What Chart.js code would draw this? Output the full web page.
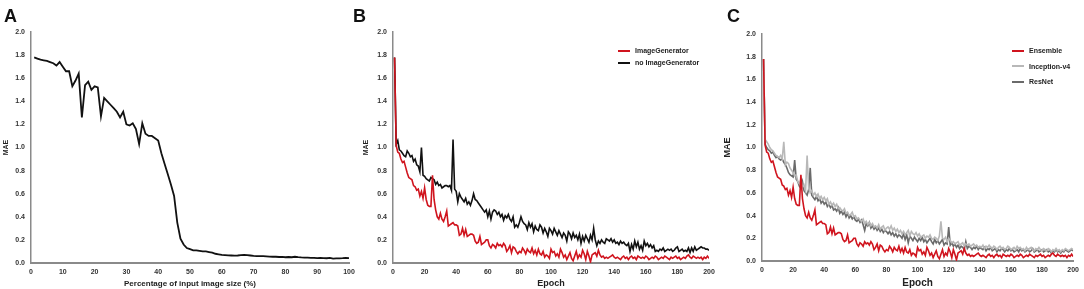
<!DOCTYPE html>
<html>
<head>
<meta charset="utf-8">
<script src="https://cdn.jsdelivr.net/npm/chart.js@4.4.1/dist/chart.umd.min.js"></script>
<style>
  body { margin: 0; background: #fff; width: 1084px; height: 289px; overflow: hidden; position: relative; font-family: "Liberation Sans", Arial, sans-serif; }
  .panel { position: absolute; top: 0; height: 289px; }
  .letter { position: absolute; top: 6px; font-size: 18px; font-weight: bold; color: #111; }
  .legend { position: absolute; font-size: 7px; font-weight: bold; color: #222; }
  .legend div { position: absolute; white-space: nowrap; display: flex; align-items: center; }
  .legend span.sw { display: inline-block; width: 12px; height: 2px; margin-right: 5px; }
</style>
</head>
<body>
<div class="panel" style="left:0;width:360px"><canvas id="chartA"></canvas></div>
<div class="panel" style="left:360px;width:360px"><canvas id="chartB"></canvas></div>
<div class="panel" style="left:720px;width:364px"><canvas id="chartC"></canvas></div>
<div class="letter" style="left:4px">A</div>
<div class="letter" style="left:353px">B</div>
<div class="letter" style="left:727px">C</div>
<div class="legend" id="legendB" style="left:618px;top:47px"></div>
<div class="legend" id="legendC" style="left:1012px;top:47px"></div>
<script>
// Panel A: MAE vs percentage of input image size
const sizePct = Array.from({ length: 100 }, (_, i) => i + 1);
const maeBySize = [
  1.78, 1.77, 1.76, 1.755, 1.75, 1.74, 1.73, 1.71, 1.74, 1.70,
  1.66, 1.66, 1.53, 1.58, 1.64, 1.26, 1.54, 1.57, 1.50, 1.53,
  1.52, 1.27, 1.43, 1.40, 1.37, 1.34, 1.31, 1.26, 1.31, 1.20,
  1.19, 1.21, 1.16, 1.03, 1.21, 1.12, 1.10, 1.10, 1.08, 1.06,
  0.95, 0.86, 0.77, 0.68, 0.58, 0.35, 0.21, 0.16, 0.13, 0.12,
  0.11, 0.11, 0.105, 0.10, 0.10, 0.095, 0.09, 0.08, 0.075, 0.07,
  0.068, 0.066, 0.065, 0.064, 0.065, 0.068, 0.07, 0.068, 0.065, 0.062,
  0.06, 0.06, 0.06, 0.058, 0.055, 0.054, 0.054, 0.052, 0.053, 0.05,
  0.052, 0.05, 0.054, 0.05, 0.048, 0.047, 0.046, 0.045, 0.044, 0.042,
  0.044, 0.043, 0.041, 0.044, 0.038, 0.04, 0.04, 0.042, 0.045, 0.043
];

// Panels B and C: MAE per epoch
const epochs = Array.from({ length: 200 }, (_, i) => i + 1);
const imageGenerator = [
  1.78, 1.02, 0.96, 0.95, 0.90, 0.87, 0.88, 0.83, 0.78, 0.74, 0.73, 0.72, 0.67, 0.66, 0.63, 0.64, 0.58, 0.62, 0.56, 0.65,
  0.55, 0.50, 0.49, 0.49, 0.76, 0.55, 0.46, 0.40, 0.38, 0.43, 0.38, 0.36, 0.40, 0.45, 0.32, 0.33, 0.34, 0.35, 0.33, 0.33,
  0.32, 0.24, 0.25, 0.30, 0.24, 0.29, 0.23, 0.24, 0.25, 0.25, 0.24, 0.19, 0.17, 0.18, 0.23, 0.16, 0.17, 0.18, 0.20, 0.20,
  0.15, 0.13, 0.16, 0.15, 0.13, 0.17, 0.15, 0.16, 0.14, 0.17, 0.15, 0.10, 0.12, 0.15, 0.09, 0.14, 0.13, 0.10, 0.08, 0.10,
  0.09, 0.13, 0.11, 0.08, 0.12, 0.10, 0.09, 0.13, 0.08, 0.11, 0.07, 0.12, 0.08, 0.07, 0.10, 0.05, 0.07, 0.06, 0.04, 0.12,
  0.09, 0.10, 0.06, 0.08, 0.05, 0.12, 0.09, 0.05, 0.07, 0.03, 0.06, 0.09, 0.04, 0.02, 0.06, 0.10, 0.04, 0.07, 0.05, 0.11,
  0.08, 0.03, 0.10, 0.06, 0.01, 0.07, 0.08, 0.09, 0.06, 0.11, 0.07, 0.05, 0.06, 0.04, 0.05, 0.04, 0.05, 0.06, 0.07, 0.05,
  0.04, 0.05, 0.04, 0.03, 0.05, 0.06, 0.04, 0.05, 0.03, 0.05, 0.06, 0.04, 0.05, 0.03, 0.06, 0.05, 0.04, 0.05, 0.04, 0.06,
  0.05, 0.03, 0.04, 0.05, 0.04, 0.06, 0.05, 0.03, 0.04, 0.05, 0.04, 0.06, 0.05, 0.04, 0.03, 0.05, 0.04, 0.05, 0.06, 0.04,
  0.05, 0.03, 0.04, 0.05, 0.04, 0.06, 0.07, 0.05, 0.04, 0.06, 0.05, 0.04, 0.05, 0.04, 0.05, 0.03, 0.05, 0.04, 0.06, 0.04
];
const noImageGenerator = [
  1.78, 1.03, 1.06, 0.98, 0.97, 0.95, 0.93, 0.92, 0.97, 0.95, 0.92, 0.93, 0.88, 0.90, 0.85, 0.84, 0.79, 1.00, 0.76, 0.75,
  0.73, 0.72, 0.71, 0.74, 0.73, 0.72, 0.68, 0.70, 0.67, 0.68, 0.65, 0.66, 0.67, 0.67, 0.66, 0.67, 0.63, 1.07, 0.64, 0.62,
  0.53, 0.60, 0.57, 0.55, 0.53, 0.56, 0.51, 0.53, 0.50, 0.54, 0.60, 0.55, 0.54, 0.52, 0.50, 0.48, 0.46, 0.44, 0.46, 0.40,
  0.45, 0.38, 0.44, 0.46, 0.45, 0.42, 0.44, 0.40, 0.42, 0.37, 0.41, 0.39, 0.42, 0.38, 0.36, 0.40, 0.31, 0.33, 0.31, 0.35,
  0.40, 0.36, 0.34, 0.33, 0.29, 0.35, 0.31, 0.34, 0.27, 0.32, 0.29, 0.28, 0.33, 0.31, 0.26, 0.30, 0.27, 0.23, 0.30, 0.28,
  0.25, 0.30, 0.27, 0.24, 0.28, 0.25, 0.22, 0.26, 0.24, 0.19, 0.27, 0.25, 0.21, 0.26, 0.22, 0.24, 0.20, 0.25, 0.17, 0.23,
  0.19, 0.24, 0.21, 0.18, 0.24, 0.20, 0.30, 0.20, 0.15, 0.19, 0.17, 0.20, 0.18, 0.17, 0.21, 0.20, 0.19, 0.21, 0.18, 0.20,
  0.17, 0.18, 0.16, 0.19, 0.17, 0.18, 0.16, 0.15, 0.17, 0.10, 0.16, 0.12, 0.19, 0.14, 0.18, 0.12, 0.15, 0.11, 0.19, 0.15,
  0.17, 0.14, 0.16, 0.13, 0.15, 0.10, 0.11, 0.10, 0.12, 0.11, 0.13, 0.10, 0.11, 0.12, 0.11, 0.12, 0.10, 0.11, 0.13, 0.14,
  0.10, 0.11, 0.12, 0.10, 0.11, 0.10, 0.13, 0.09, 0.13, 0.10, 0.14, 0.11, 0.12, 0.13, 0.14, 0.13, 0.13, 0.12, 0.12, 0.11
];
const ensemble = imageGenerator;
const inceptionV4 = [
  1.78, 1.07, 1.05, 1.03, 1.00, 0.98, 0.97, 0.95, 0.93, 0.92, 0.91, 0.93, 0.90, 1.05, 0.85, 0.87, 0.86, 0.82, 0.80, 0.78,
  0.75, 0.76, 0.70, 0.68, 0.72, 0.65, 0.67, 0.62, 0.93, 0.64, 0.60, 0.62, 0.58, 0.60, 0.57, 0.59, 0.55, 0.57, 0.54, 0.56,
  0.53, 0.55, 0.50, 0.52, 0.49, 0.51, 0.48, 0.50, 0.46, 0.47, 0.45, 0.44, 0.46, 0.42, 0.43, 0.40, 0.41, 0.43, 0.39, 0.40,
  0.37, 0.38, 0.36, 0.35, 0.37, 0.33, 0.35, 0.32, 0.34, 0.31, 0.33, 0.30, 0.31, 0.29, 0.32, 0.28, 0.30, 0.31, 0.27, 0.29,
  0.30, 0.28, 0.31, 0.27, 0.29, 0.26, 0.28, 0.25, 0.27, 0.24, 0.26, 0.23, 0.25, 0.27, 0.22, 0.26, 0.24, 0.23, 0.25, 0.22,
  0.24, 0.21, 0.22, 0.23, 0.20, 0.22, 0.21, 0.23, 0.20, 0.19, 0.21, 0.20, 0.18, 0.22, 0.35, 0.20, 0.19, 0.21, 0.17, 0.20,
  0.18, 0.16, 0.17, 0.15, 0.16, 0.17, 0.14, 0.15, 0.16, 0.13, 0.15, 0.14, 0.15, 0.13, 0.14, 0.15, 0.13, 0.14, 0.12, 0.13,
  0.12, 0.14, 0.11, 0.13, 0.12, 0.14, 0.12, 0.11, 0.13, 0.12, 0.10, 0.12, 0.13, 0.11, 0.12, 0.10, 0.11, 0.13, 0.12, 0.10,
  0.11, 0.12, 0.10, 0.13, 0.11, 0.12, 0.10, 0.11, 0.09, 0.12, 0.10, 0.11, 0.12, 0.10, 0.09, 0.11, 0.10, 0.12, 0.10, 0.09,
  0.11, 0.10, 0.09, 0.11, 0.10, 0.08, 0.10, 0.09, 0.11, 0.09, 0.10, 0.08, 0.10, 0.09, 0.11, 0.10, 0.09, 0.10, 0.11, 0.10
];
const resNet = [
  1.78, 1.03, 1.00, 0.98, 0.97, 0.95, 0.96, 0.93, 0.91, 0.92, 0.90, 0.89, 0.90, 0.87, 0.85, 0.82, 0.78, 0.76, 0.75, 0.74,
  0.89, 0.72, 0.70, 0.66, 0.64, 0.70, 0.62, 0.60, 0.58, 0.63, 0.82, 0.58, 0.56, 0.54, 0.57, 0.53, 0.55, 0.51, 0.53, 0.50,
  0.52, 0.48, 0.50, 0.47, 0.49, 0.45, 0.46, 0.44, 0.47, 0.42, 0.44, 0.41, 0.43, 0.39, 0.42, 0.38, 0.40, 0.37, 0.39, 0.36,
  0.35, 0.37, 0.34, 0.36, 0.32, 0.27, 0.33, 0.31, 0.34, 0.29, 0.31, 0.28, 0.30, 0.27, 0.29, 0.26, 0.28, 0.25, 0.27, 0.26,
  0.24, 0.26, 0.23, 0.25, 0.22, 0.24, 0.21, 0.23, 0.22, 0.20, 0.24, 0.19, 0.23, 0.16, 0.22, 0.20, 0.18, 0.21, 0.19, 0.17,
  0.20, 0.18, 0.21, 0.17, 0.19, 0.16, 0.18, 0.20, 0.17, 0.15, 0.19, 0.16, 0.18, 0.15, 0.17, 0.19, 0.14, 0.16, 0.15, 0.30,
  0.14, 0.16, 0.13, 0.15, 0.12, 0.14, 0.11, 0.13, 0.12, 0.10, 0.17, 0.11, 0.13, 0.12, 0.10, 0.12, 0.11, 0.13, 0.10, 0.12,
  0.11, 0.10, 0.12, 0.09, 0.11, 0.10, 0.12, 0.09, 0.10, 0.11, 0.08, 0.10, 0.09, 0.11, 0.10, 0.08, 0.10, 0.09, 0.11, 0.09,
  0.10, 0.08, 0.09, 0.10, 0.08, 0.11, 0.09, 0.10, 0.08, 0.09, 0.10, 0.08, 0.09, 0.11, 0.08, 0.09, 0.10, 0.08, 0.09, 0.10,
  0.08, 0.09, 0.10, 0.08, 0.09, 0.07, 0.09, 0.08, 0.10, 0.08, 0.09, 0.07, 0.09, 0.08, 0.10, 0.09, 0.08, 0.09, 0.10, 0.09
];

const RED = '#d0141e', BLACK = '#111111', LIGHT = '#b8b8b8', DARK = '#6a6a6a';
const FONT = '"Liberation Sans", Arial, sans-serif';

function pts(xs, ys) {
  return ys.map((v, i) => ({ x: xs[i], y: v }));
}

function makeChart(id, panelW, area, xMax, xStep, xTitle, titleSize, yTitleSize, datasets) {
  const [l, t, r, b] = area;
  const canvas = document.getElementById(id);
  canvas.width = panelW; canvas.height = 289;
  return new Chart(canvas, {
    type: 'line',
    data: { datasets: datasets },
    options: {
      responsive: false,
      animation: false,
      layout: { padding: { left: 0, top: t, right: panelW - r, bottom: 0 } },
      elements: { point: { radius: 0 }, line: { tension: 0, borderWidth: 1.6 } },
      plugins: { legend: { display: false }, tooltip: { enabled: false } },
      scales: {
        x: {
          type: 'linear', min: 0, max: xMax,
          grid: { display: false, drawTicks: false },
          border: { color: '#8a8a8a', width: 2 },
          ticks: { stepSize: xStep, padding: 5, color: '#333', font: { family: FONT, size: 7, weight: 'bold' } },
          title: { display: true, text: xTitle, color: '#222', padding: 0, font: { family: FONT, size: titleSize, weight: 'bold' } },
          afterFit: s => { s.height = 289 - b; }
        },
        y: {
          min: 0, max: 2,
          grid: { display: false, drawTicks: false },
          border: { color: '#8a8a8a', width: 1.5 },
          ticks: { stepSize: 0.2, padding: 6, color: '#333', font: { family: FONT, size: 7, weight: 'bold' }, callback: v => v.toFixed(1) },
          title: { display: true, text: 'MAE', color: '#222', padding: { top: 2, bottom: 0 }, font: { family: FONT, size: yTitleSize, weight: 'bold' } },
          afterFit: s => { s.width = l; }
        }
      }
    }
  });
}

function buildLegend(id, datasets, gap) {
  const box = document.getElementById(id);
  datasets.forEach((d, i) => {
    const row = document.createElement('div');
    row.style.top = (i * gap) + 'px';
    const sw = document.createElement('span');
    sw.className = 'sw';
    sw.style.background = d.borderColor;
    row.appendChild(sw);
    row.appendChild(document.createTextNode(d.label));
    box.appendChild(row);
  });
}

makeChart('chartA', 360, [31, 32, 349, 263], 100, 10, 'Percentage of input image size (%)', 8, 7, [
  { label: 'MAE', data: pts(sizePct, maeBySize), borderColor: BLACK, borderWidth: 1.8 }
]);

const dsB = [
  { label: 'ImageGenerator', data: pts(epochs, imageGenerator), borderColor: RED },
  { label: 'no ImageGenerator', data: pts(epochs, noImageGenerator), borderColor: BLACK }
];
makeChart('chartB', 360, [33, 32, 349, 263], 200, 20, 'Epoch', 9, 7, dsB);
buildLegend('legendB', dsB, 12);

const dsC = [
  { label: 'Ensemble', data: pts(epochs, ensemble), borderColor: RED },
  { label: 'Inception-v4', data: pts(epochs, inceptionV4), borderColor: LIGHT },
  { label: 'ResNet', data: pts(epochs, resNet), borderColor: DARK }
];
makeChart('chartC', 364, [42, 34, 357, 261], 200, 20, 'Epoch', 10, 9, dsC);
buildLegend('legendC', dsC, 15.5);
</script>
</body>
</html>
